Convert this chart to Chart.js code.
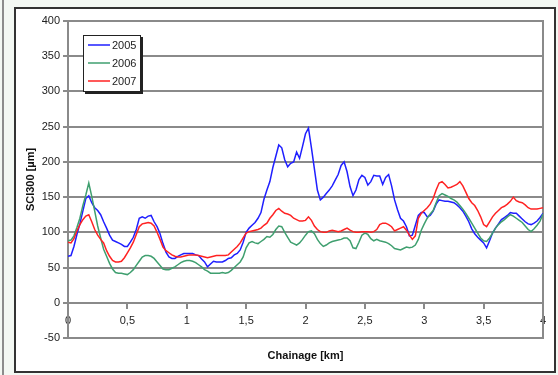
<!DOCTYPE html>
<html>
<head>
<meta charset="utf-8">
<script src="https://cdn.jsdelivr.net/npm/chart.js@4"></script>
<style>
  html, body { margin: 0; padding: 0; }
  body { width: 558px; height: 375px; background: #f3f8f3; position: relative; overflow: hidden; }
  .edge { position: absolute; left: 2px; top: 0; width: 2px; height: 375px; background: #8c8c8c; }
  .frame { position: absolute; left: 14px; top: 7px; width: 538px; height: 362px; border: 2px solid #333; background: #fff; }
  .frame canvas { position: absolute; left: 0; top: 0; }
</style>
</head>
<body>
<div class="edge"></div>
<div class="frame">
  <canvas id="sci-chart" width="538" height="362"></canvas>
</div>
<script>
const km = [
  0, 0.025, 0.05, 0.075, 0.1, 0.125, 0.15, 0.175, 0.2, 0.225, 0.25, 0.275, 0.3, 0.325, 0.35, 0.375,
  0.4, 0.425, 0.45, 0.475, 0.5, 0.525, 0.55, 0.575, 0.6, 0.625, 0.65, 0.675, 0.7, 0.725, 0.75, 0.775,
  0.8, 0.825, 0.85, 0.875, 0.9, 0.925, 0.95, 0.975, 1, 1.025, 1.05, 1.075, 1.1, 1.125, 1.15, 1.175,
  1.2, 1.225, 1.25, 1.275, 1.3, 1.325, 1.35, 1.375, 1.4, 1.425, 1.45, 1.475, 1.5, 1.525, 1.55, 1.575,
  1.6, 1.625, 1.65, 1.675, 1.7, 1.725, 1.75, 1.775, 1.8, 1.825, 1.85, 1.875, 1.9, 1.925, 1.95, 1.975,
  2, 2.025, 2.05, 2.075, 2.1, 2.125, 2.15, 2.175, 2.2, 2.225, 2.25, 2.275, 2.3, 2.325, 2.35, 2.375,
  2.4, 2.425, 2.45, 2.475, 2.5, 2.525, 2.55, 2.575, 2.6, 2.625, 2.65, 2.675, 2.7, 2.725, 2.75, 2.775,
  2.8, 2.825, 2.85, 2.875, 2.9, 2.925, 2.95, 2.975, 3, 3.025, 3.05, 3.075, 3.1, 3.125, 3.15, 3.175,
  3.2, 3.225, 3.25, 3.275, 3.3, 3.325, 3.35, 3.375, 3.4, 3.425, 3.45, 3.475, 3.5, 3.525, 3.55, 3.575,
  3.6, 3.625, 3.65, 3.675, 3.7, 3.725, 3.75, 3.775, 3.8, 3.825, 3.85, 3.875, 3.9, 3.925, 3.95, 3.975,
  4
];

const sci2005 = [
  66, 67, 80, 97, 112, 130, 148, 152, 142, 135, 131, 125, 115, 106, 96, 89,
  87, 85, 83, 80, 80, 86, 93, 104, 120, 122, 120, 123, 124, 115, 108, 98,
  84, 72, 65, 63, 63, 66, 68, 70, 70, 70, 70, 68, 67, 62, 58, 51,
  55, 59, 58, 58, 58, 60, 63, 64, 68, 70, 75, 86, 100, 106, 110, 114,
  120, 128, 147, 160, 172, 192, 208, 224, 220, 203, 193, 198, 200, 214, 205, 222,
  240, 248, 220, 190, 160, 146, 150, 155, 160, 166, 174, 182, 195, 200, 186, 165,
  152, 160, 175, 181, 178, 167, 172, 181, 180, 180, 168, 178, 182, 166, 146, 132,
  120, 116, 108, 95, 96, 110, 124, 128, 128, 122, 124, 130, 140, 146, 145, 144,
  144, 143, 142, 139, 135, 130, 123, 115, 105, 98, 93, 89, 85, 78, 88, 99,
  106, 112, 118, 121, 124, 128, 127, 127, 123, 119, 115, 112, 111, 113, 116, 121,
  127
];

const sci2006 = [
  88, 89, 95, 107, 120, 138, 153, 170, 151, 130, 109, 92, 76, 66, 56, 48,
  43, 42, 42, 41, 40, 43, 47, 53, 59, 65, 67, 67, 66, 63, 58, 53,
  48, 47, 47, 49, 51, 54, 57, 59, 60, 60, 59, 57, 54, 51, 47, 45,
  42, 42, 42, 42, 43, 42, 43, 46, 50, 54, 58, 65, 78, 85, 87, 85,
  84, 87, 90, 94, 93, 97, 104, 109, 108, 100, 93, 86, 84, 82, 85, 90,
  96, 101, 102, 98, 90, 84, 80, 82, 85, 87, 88, 89, 90, 92, 92, 88,
  78, 77, 86, 96, 99, 97, 91, 88, 90, 88, 87, 86, 84, 81, 77, 76,
  75, 77, 79, 78, 79, 82, 90, 103, 112, 120, 126, 131, 142, 152, 155, 153,
  151, 148, 146, 143, 138, 133, 127, 120, 113, 106, 99, 92, 88, 87, 92, 99,
  106, 111, 115, 118, 122, 125, 123, 120, 117, 114, 109, 104, 101, 105, 110, 116,
  126
];

const sci2007 = [
  86, 85, 91, 102, 111, 118, 123, 125, 115, 104, 96, 90, 85, 74, 66, 60,
  58, 58, 59, 64, 71, 78, 86, 97, 108, 112, 113, 114, 113, 109, 100, 90,
  79, 74, 71, 68, 66, 65, 65, 66, 67, 68, 68, 68, 67, 66, 65, 64,
  65, 66, 67, 67, 67, 67, 68, 72, 76, 80, 85, 92, 99, 101, 102, 103,
  104, 106, 110, 113, 120, 125, 131, 134, 130, 127, 126, 124, 120, 118, 116, 116,
  117, 122, 117, 109, 104, 101, 100, 100, 102, 103, 102, 101, 102, 104, 106, 103,
  101, 100, 100, 101, 101, 101, 100, 101, 104, 111, 113, 113, 111, 108, 102, 104,
  106, 108, 103, 96, 90, 95, 120, 127, 131, 135, 140, 148, 160, 170, 172, 168,
  163, 164, 166, 168, 172, 166, 157, 148, 142, 138, 131, 122, 111, 108, 115, 122,
  127, 131, 135, 137, 140, 144, 150, 145, 143, 142, 139, 135, 133, 133, 133, 134,
  135
];

const seriesNames = ["2005", "2006", "2007"];
const seriesColors = ["#1f1fff", "#3f9f6f", "#ff2222"];
const yTicks = [-50, 0, 50, 100, 150, 200, 250, 300, 350, 400];
const xTicks = [0, 0.5, 1, 1.5, 2, 2.5, 3, 3.5, 4];

const gridColor = "#8a8a8a";
const fontFamily = "'Liberation Sans', Arial, sans-serif";

const toPoints = (values) => values.map((v, i) => ({ x: km[i], y: v }));

// boxed legend sitting inside the plot, like the Excel one
const boxLegend = {
    id: "boxLegend",
    afterDraw(chart) {
        const { ctx, chartArea } = chart;
        const x = chartArea.left + 15;
        const y = chartArea.top + 14;
        const w = 58;
        const h = 57;
        ctx.save();
        ctx.fillStyle = "#222";
        ctx.fillRect(x + 2, y + 2, w, h);
        ctx.fillStyle = "#fff";
        ctx.fillRect(x, y, w, h);
        ctx.strokeStyle = "#222";
        ctx.lineWidth = 1;
        ctx.strokeRect(x + 0.5, y + 0.5, w - 1, h - 1);
        ctx.font = "11px " + fontFamily;
        ctx.textBaseline = "middle";
        chart.data.datasets.forEach((ds, i) => {
            const ly = y + 10 + i * 18;
            ctx.strokeStyle = ds.borderColor;
            ctx.lineWidth = 1.5;
            ctx.beginPath();
            ctx.moveTo(x + 5, ly);
            ctx.lineTo(x + 27, ly);
            ctx.stroke();
            ctx.fillStyle = "#222";
            ctx.fillText(ds.label, x + 29, ly + 0.5);
        });
        ctx.restore();
    },
};

const sciChart = () => {
    const canvas = document.getElementById("sci-chart");
    const ctx = canvas.getContext("2d");
    const allSeries = [sci2005, sci2006, sci2007];

    new Chart(ctx, {
        type: "line",
        data: {
            datasets: allSeries.map((values, i) => ({
                label: seriesNames[i],
                data: toPoints(values),
                borderColor: seriesColors[i],
                borderWidth: 1.5,
                pointRadius: 0,
                tension: 0,
                fill: false,
                order: 2 - i,
            })),
        },
        options: {
            responsive: false,
            animation: false,
            layout: {
                padding: { left: 4.4, right: 11, top: 12, bottom: 4.4 },
            },
            scales: {
                x: {
                    type: "linear",
                    position: { y: 0 },
                    min: 0,
                    max: 4,
                    afterFit: (scale) => {
                        scale.height = 0;
                    },
                    afterBuildTicks: (scale) => {
                        scale.ticks = xTicks.map((v) => ({ value: v }));
                    },
                    grid: {
                        drawOnChartArea: false,
                        drawTicks: true,
                        tickLength: 5,
                        color: gridColor,
                        lineWidth: 2,
                    },
                    border: { display: true, color: gridColor, width: 2 },
                    ticks: {
                        padding: 7,
                        color: "#222",
                        font: { family: fontFamily, size: 11 },
                        maxRotation: 0,
                        callback: (value) => String(value).replace(".", ","),
                    },
                },
                x2: {
                    type: "linear",
                    position: "bottom",
                    display: true,
                    min: 0,
                    max: 4,
                    afterFit: (scale) => {
                        scale.height = 28.6;
                    },
                    grid: { display: false, drawTicks: false },
                    border: { display: true, color: gridColor, width: 2 },
                    ticks: { display: false },
                    title: {
                        display: true,
                        text: "Chainage [km]",
                        color: "#111",
                        padding: { top: 0, bottom: 4 },
                        font: { family: fontFamily, size: 11, weight: "bold" },
                    },
                },
                y: {
                    type: "linear",
                    position: "left",
                    min: -50,
                    max: 400,
                    afterFit: (scale) => {
                        scale.width = 47.6;
                    },
                    afterBuildTicks: (scale) => {
                        scale.ticks = yTicks.map((v) => ({ value: v }));
                    },
                    grid: {
                        color: gridColor,
                        lineWidth: 2,
                        drawTicks: true,
                        tickLength: 5,
                    },
                    border: { display: true, color: gridColor, width: 2 },
                    ticks: {
                        padding: 3,
                        color: "#222",
                        font: { family: fontFamily, size: 11 },
                    },
                    title: {
                        display: true,
                        text: "SCI300 [µm]",
                        color: "#111",
                        padding: { top: 4, bottom: 4 },
                        font: { family: fontFamily, size: 11, weight: "bold" },
                    },
                },
                y2: {
                    type: "linear",
                    position: "right",
                    display: true,
                    afterFit: (scale) => {
                        scale.width = 0;
                    },
                    grid: { display: false, drawTicks: false },
                    border: { display: true, color: gridColor, width: 2 },
                    ticks: { display: false },
                },
            },
            plugins: {
                legend: { display: false },
                tooltip: { enabled: false },
            },
        },
        plugins: [boxLegend],
    });
};

document.addEventListener("DOMContentLoaded", () => {
    sciChart();
});
</script>
</body>
</html>
